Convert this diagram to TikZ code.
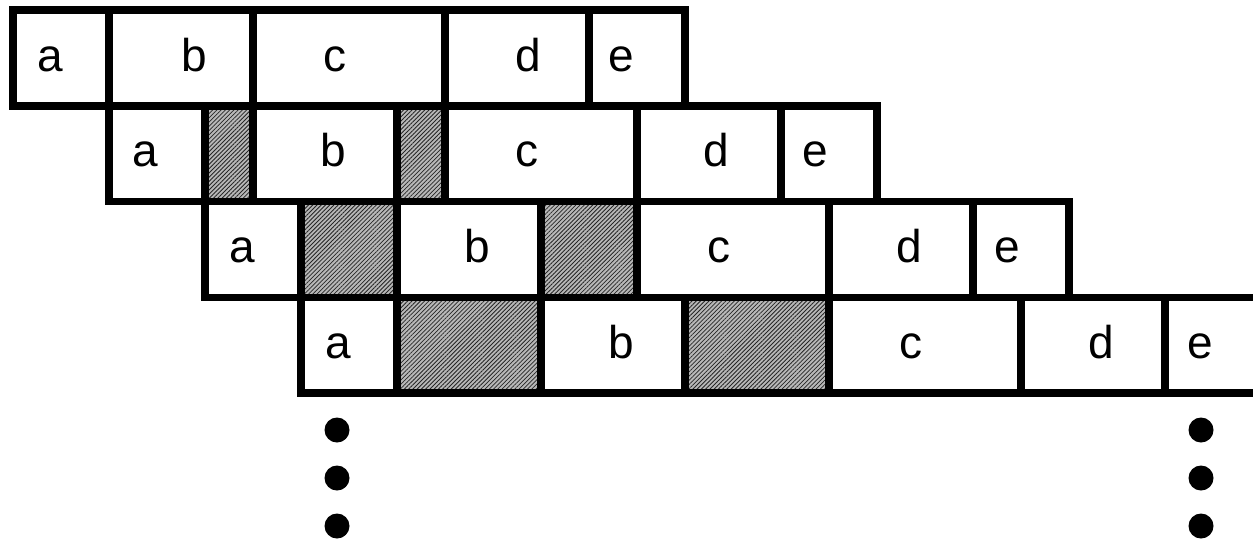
\documentclass[tikz,border=0pt]{standalone}
\usepackage{fontspec}
\setmainfont{Liberation Sans}
\usetikzlibrary{patterns.meta}
\begin{document}
\begin{tikzpicture}[x=1pt,y=-1pt,
  cell/.style={draw=black, line width=7.5pt, line join=miter, rectangle, inner sep=0pt, outer sep=0pt, minimum height=95.75pt},
  plain/.style={},
  shade/.style={preaction={fill=black!28}, pattern={Lines[angle=45,distance=3pt,line width=0.8pt]}, pattern color=black!85},
  lab/.style={anchor=base, inner sep=0pt, font=\fontsize{46}{46}\selectfont},
  dot/.style={circle, fill=black, inner sep=0pt, minimum size=25pt}]
\useasboundingbox (0,0) rectangle (1253,539);
\foreach \r/\n/\a/\b/\s in {
  1/a/0/2/plain, 1/b/2/5/plain, 1/c/5/9/plain, 1/d/9/12/plain, 1/e/12/14/plain,
  2/a/2/4/plain, 2/g/4/5/shade, 2/b/5/8/plain, 2/h/8/9/shade, 2/c/9/13/plain, 2/d/13/16/plain, 2/e/16/18/plain,
  3/a/4/6/plain, 3/g/6/8/shade, 3/b/8/11/plain, 3/h/11/13/shade, 3/c/13/17/plain, 3/d/17/20/plain, 3/e/20/22/plain,
  4/a/6/8/plain, 4/g/8/11/shade, 4/b/11/14/plain, 4/h/14/17/shade, 4/c/17/21/plain, 4/d/21/24/plain, 4/e/24/26/plain}
{
  \node[cell, \s, minimum width={(\b-\a)*48pt}] (c\r\n) at ({13+(\a+\b)*24}, {10+(\r-0.5)*95.75}) {};
}
% labels
\foreach \r/\n/\x in {
  1/a/50, 1/b/194, 1/c/335, 1/d/528, 1/e/621,
  2/a/145, 2/b/333, 2/c/527, 2/d/716, 2/e/815,
  3/a/242, 3/b/477, 3/c/719, 3/d/909, 3/e/1007,
  4/a/338, 4/b/621, 4/c/911, 4/d/1101, 4/e/1200}
{
  \node[lab] (t\r\n) at ({\x}, {71+(\r-1)*95.75}) {\n};
}
% continuation dots
\node[dot] (dl1) at (337,430) {};
\node[dot] (dl2) at (337,478) {};
\node[dot] (dl3) at (337,526) {};
\node[dot] (dr1) at (1201,430) {};
\node[dot] (dr2) at (1201,478) {};
\node[dot] (dr3) at (1201,526) {};
\end{tikzpicture}
\end{document}
